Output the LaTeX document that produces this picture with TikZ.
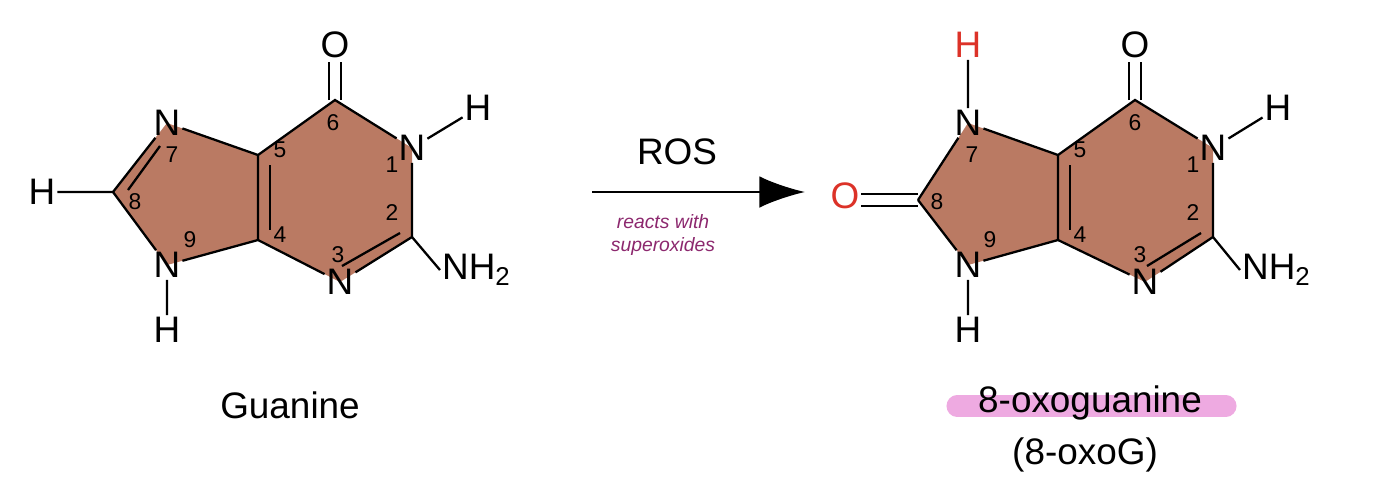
\documentclass[tikz,border=0pt]{standalone}
\usepackage{fontspec}
\setmainfont{Liberation Sans}
\usetikzlibrary{arrows.meta}
\begin{document}
\begin{tikzpicture}[x=0.02cm,y=-0.02cm,
 atom/.style={inner sep=1pt,font=\fontsize{21}{23}\selectfont},
 num/.style={font=\fontsize{13}{14}\selectfont},
 bond/.style={line width=1.3pt},
 lbl/.style={font=\fontsize{21}{24}\selectfont}]
\definecolor{ringc}{RGB}{186,122,99}
\definecolor{oxred}{RGB}{220,50,40}
\definecolor{hand}{RGB}{140,40,110}
\definecolor{hl}{RGB}{238,170,225}
\useasboundingbox (0,0) rectangle (1378,488);
% ---------- Guanine ----------
\coordinate (gN7) at (167,123); \coordinate (gC8) at (113,192); \coordinate (gN9) at (167,265);
\coordinate (gC4) at (258,240); \coordinate (gC5) at (258,155); \coordinate (gC6) at (335,100);
\coordinate (gN1) at (412,148); \coordinate (gC2) at (412,237); \coordinate (gN3) at (340,282);
\fill[ringc] (gN7)--(gC5)--(gC6)--(gN1)--(gC2)--(gN3)--(gC4)--(gN9)--(gC8)--cycle;
\node[atom] (gN7n) at (gN7) {N};
\node[atom] (gN9n) at (gN9) {N};
\node[atom] (gN1n) at (gN1) {N};
\node[atom] (gN3n) at (gN3) {N};
\draw[bond] (gC8)--(gN7n)--(gC5)--(gC6)--(gN1n)--(gC2)--(gN3n)--(gC4)--(gN9n)--(gC8) (gC4)--(gC5);
\draw[bond] (270,165)--(270,230);
\draw[bond] (342,266)--(400,233);
\draw[bond] (128,190)--(160,146);
\draw[bond] (329,100)--(329,62) (341,100)--(341,62);
\node[atom] (gH8) at (42,192) {H};
\node[atom] (gO6) at (335,45) {O};
\node[atom] (gH1) at (478,108) {H};
\node[atom] (gH9) at (167,330) {H};
\node[atom,anchor=west] (gNH2) at (440,270) {NH\textsubscript{2}};
\draw[bond] (gH8)--(gC8) (gN1n)--(gH1) (gN9n)--(gH9) (gC2)--(gNH2.west);
\node[num] at (333,123) {6}; \node[num] at (392,165) {1}; \node[num] at (392,213) {2};
\node[num] at (338,255) {3}; \node[num] at (280,235) {4}; \node[num] at (280,150) {5};
\node[num] at (172,155) {7}; \node[num] at (135,202) {8}; \node[num] at (190,240) {9};
\node[lbl] (gname) at (290,405) {Guanine};
% ---------- arrow ----------
\coordinate (a1) at (592,192); \coordinate (a2) at (805,192);
\draw[line width=1.5pt,-{Latex[length=26pt,width=18pt]}] (a1)--(a2);
\node[lbl] (ros) at (677,152) {ROS};
\node[text=hand,font=\itshape\fontsize{11}{13}\selectfont,align=center] (note) at (663,235) {reacts with\\superoxides};
% ---------- 8-oxoguanine ----------
\coordinate (oN7) at (968,123); \coordinate (oC8) at (918,200); \coordinate (oN9) at (968,265);
\coordinate (oC4) at (1058,240); \coordinate (oC5) at (1058,155); \coordinate (oC6) at (1135,100);
\coordinate (oN1) at (1213,148); \coordinate (oC2) at (1213,237); \coordinate (oN3) at (1145,282);
\fill[ringc] (oN7)--(oC5)--(oC6)--(oN1)--(oC2)--(oN3)--(oC4)--(oN9)--(oC8)--cycle;
\node[atom] (oN7n) at (oN7) {N};
\node[atom] (oN9n) at (oN9) {N};
\node[atom] (oN1n) at (oN1) {N};
\node[atom] (oN3n) at (oN3) {N};
\draw[bond] (oC8)--(oN7n)--(oC5)--(oC6)--(oN1n)--(oC2)--(oN3n)--(oC4)--(oN9n)--(oC8) (oC4)--(oC5);
\draw[bond] (1070,165)--(1070,230);
\draw[bond] (1147,266)--(1201,233);
\draw[bond] (1129,100)--(1129,62) (1141,100)--(1141,62);
\node[atom,text=oxred] (oH7) at (968,45) {H};
\node[atom,text=oxred] (oO8) at (845,196) {O};
\draw[bond] (oO8.east |- 0,194)--(918,194) (oO8.east |- 0,206)--(918,206);
\node[atom] (oO6) at (1135,45) {O};
\node[atom] (oH1) at (1278,108) {H};
\node[atom] (oH9) at (968,330) {H};
\node[atom,anchor=west] (oNH2) at (1240,270) {NH\textsubscript{2}};
\draw[bond] (oN7n)--(oH7) (oN1n)--(oH1) (oN9n)--(oH9) (oC2)--(oNH2.west);
\node[num] at (1135,123) {6}; \node[num] at (1193,165) {1}; \node[num] at (1193,213) {2};
\node[num] at (1140,255) {3}; \node[num] at (1080,235) {4}; \node[num] at (1080,150) {5};
\node[num] at (972,155) {7}; \node[num] at (937,202) {8}; \node[num] at (990,240) {9};
\draw[hl,line width=12pt,line cap=round] (957,406)--(1226,406);
\node[lbl] (oname) at (1090,403) {8-oxoguanine};
\node[lbl] (oabbr) at (1085,455) {(8-oxoG)};
\end{tikzpicture}
\end{document}
